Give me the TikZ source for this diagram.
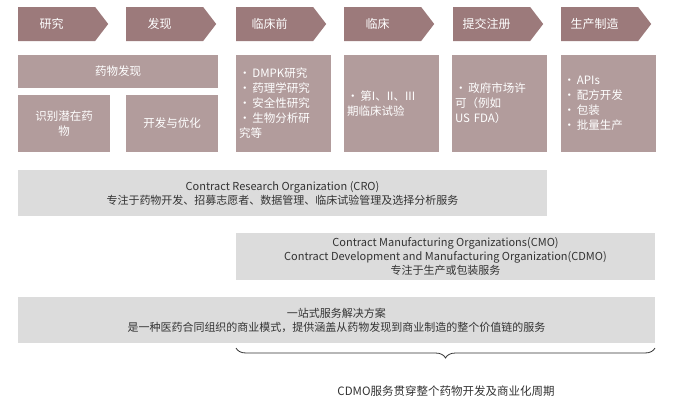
\documentclass[tikz,border=0pt]{standalone}
\usepackage{fontspec}
\setmainfont{Noto Sans CJK SC}
\usetikzlibrary{shapes.symbols,decorations.pathreplacing}
\definecolor{darkm}{HTML}{9C7A7B}
\definecolor{lightm}{HTML}{B29C9C}
\definecolor{grayb}{HTML}{DCDCDC}
\definecolor{txt}{HTML}{333333}
\begin{document}
\begin{tikzpicture}[x=1pt,y=-1pt,
  stage/.style={signal, signal to=east, signal pointer angle=105, fill=darkm, draw=none, text=white, minimum height=34pt, minimum width=90pt, inner sep=0pt, font=\fontsize{12}{14}\selectfont, anchor=west},
  mbox/.style={fill=lightm, draw=none, text=white, inner sep=3pt, font=\fontsize{11.5}{15}\selectfont},
  gbox/.style={fill=grayb, draw=none, text=txt, inner sep=0pt, font=\fontsize{11}{14}\selectfont, align=center}]
\useasboundingbox (0,0) rectangle (681,410);
\fill[white] (0,0) rectangle (681,410);
% stages
\node[stage] (s1) at (18,24) {\hspace*{-10pt}研究};
\node[stage] (s2) at (126,24) {\hspace*{-10pt}发现};
\node[stage] (s3) at (236,24) {\hspace*{-10pt}临床前};
\node[stage] (s4) at (344,24) {\hspace*{-10pt}临床};
\node[stage] (s5) at (453,24) {\hspace*{-10pt}提交注册};
\node[stage] (s6) at (561,24) {\hspace*{-10pt}生产制造};
% boxes
\node[mbox, minimum width=200pt, minimum height=33pt] (dd) at (118,71.5) {药物发现};
\node[mbox, minimum width=92pt, minimum height=57pt, align=center] (id) at (64,123.5) {识别潜在药\\物};
\node[mbox, minimum width=92pt, minimum height=57pt] (dv) at (172,123.5) {开发与优化};
\node[mbox, minimum width=95pt, minimum height=97pt, text width=89pt, align=left] (pc) at (283.5,103.5)
  {\textbullet\,DMPK研究\\\textbullet\,药理学研究\\\textbullet\,安全性研究\\\textbullet\,生物分析研\\究等};
\node[mbox, minimum width=95pt, minimum height=97pt, text width=89pt, align=left] (cl) at (391.5,103.5)
  {\textbullet\,第I、II、III\\期临床试验};
\node[mbox, minimum width=95pt, minimum height=97pt, text width=89pt, align=left] (rg) at (499.5,103.5)
  {\textbullet\,政府市场许\\可（例如\\US FDA）};
\node[mbox, minimum width=95pt, minimum height=97pt, text width=89pt, align=left] (mf) at (608,103.5)
  {\textbullet\,APIs\\\textbullet\,配方开发\\\textbullet\,包装\\\textbullet\,批量生产};
% gray bars
\node[gbox, minimum width=529pt, minimum height=46pt] (cro) at (282.5,193)
  {Contract Research Organization (CRO)\\专注于药物开发、招募志愿者、数据管理、临床试验管理及选择分析服务};
\node[gbox, minimum width=419pt, minimum height=47pt] (cmo) at (445.5,256.5)
  {Contract Manufacturing Organizations(CMO)\\Contract Development and Manufacturing Organization(CDMO)\\专注于生产或包装服务};
\node[gbox, minimum width=637pt, minimum height=46pt] (one) at (336.5,320)
  {一站式服务解决方案\\是一种医药合同组织的商业模式，提供涵盖从药物发现到商业制造的整个价值链的服务};
% brace
\coordinate (bl) at (236,348);
\coordinate (br) at (655,348);
\draw[txt, thick, decorate, decoration={brace, mirror, amplitude=10pt, aspect=0.5}] (bl) -- (br);
\node[text=txt, font=\fontsize{11.5}{14}\selectfont] (cap) at (446,391) {CDMO服务贯穿整个药物开发及商业化周期};
\end{tikzpicture}
\end{document}
